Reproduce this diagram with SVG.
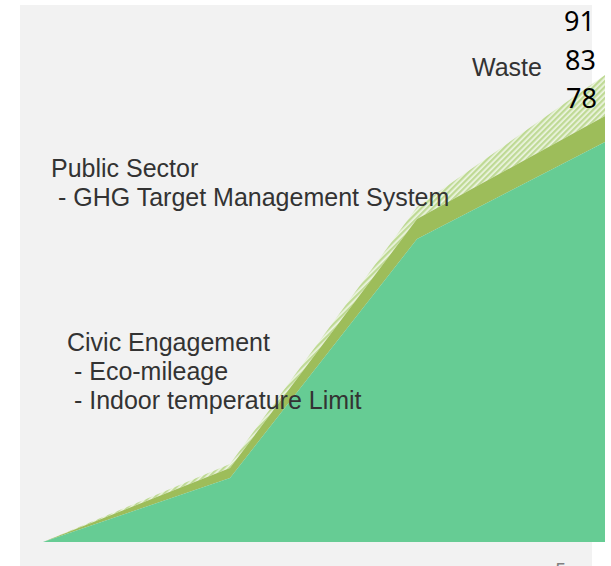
<svg xmlns="http://www.w3.org/2000/svg" width="611" height="566" viewBox="0 0 611 566">
  <style>
    .lbl { font-family: "Liberation Sans", Arial, sans-serif; font-size: 25px; fill: #333333; }
    .num { font-family: "Noto Sans", "DejaVu Sans", sans-serif; font-size: 27px; fill: #000; }
    .axis { font-family: "Noto Sans", "DejaVu Sans", sans-serif; font-size: 20px; fill: #808080; }
  </style>
  <defs>
    <pattern id="hatch" width="4" height="4" patternUnits="userSpaceOnUse" patternTransform="rotate(45)">
      <rect width="4" height="4" fill="#eef5e3"/>
      <rect width="2.3" height="4" fill="#bfda95"/>
    </pattern>
  </defs>
  <rect id="background" x="0" y="0" width="611" height="566" fill="#ffffff"/>
  <rect id="plot-area" x="20" y="5" width="572" height="561" fill="#f2f2f2"/>
  <g id="series">
    <g id="series-waste">
      <polygon points="43,542 230,464 417,207 605,75 605,116 417,219 230,468" fill="url(#hatch)"/>
    </g>
    <g id="series-public">
      <polygon points="43,542 230,468 417,219 605,116 605,142 417,239 230,478" fill="#9dbd5a"/>
    </g>
    <g id="series-civic">
      <polygon points="43,542 230,478 417,239 605,142 605,542" fill="#60ca90" fill-opacity="0.96"/>
    </g>
  </g>
  <g id="labels">
    <text id="label-public" class="lbl" xml:space="preserve"><tspan x="51" y="177">Public Sector</tspan><tspan x="51" y="206"> - GHG Target Management System</tspan></text>
    <text id="label-civic" class="lbl" xml:space="preserve"><tspan x="67" y="351">Civic Engagement</tspan><tspan x="67" y="380"> - Eco-mileage</tspan><tspan x="67" y="409"> - Indoor temperature Limit</tspan></text>
    <text id="label-waste" class="lbl" x="472" y="76">Waste</text>
    <text class="num" x="564" y="31">91</text>
    <text class="num" x="565" y="70">83</text>
    <text class="num" x="566" y="108">78</text>
    <text class="axis" x="555" y="577">5</text>
  </g>
</svg>
